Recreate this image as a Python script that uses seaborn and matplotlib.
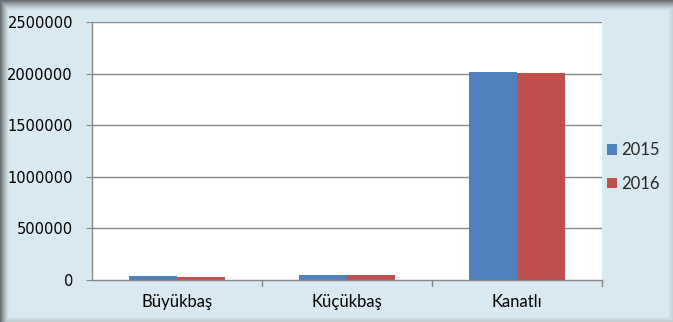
import numpy as np
import pandas as pd
import matplotlib
matplotlib.use("Agg")
import matplotlib.pyplot as plt
import seaborn as sns

categories = ["Büyükbaş", "Küçükbaş", "Kanatlı"]
years = ["2015", "2016"]
values_2015 = [36000, 50000, 2020000]
values_2016 = [27000, 51000, 2005000]
y_ticks = [0, 500000, 1000000, 1500000, 2000000, 2500000]

df = pd.DataFrame({
    "kategori": categories * 2,
    "yil": [years[0]] * 3 + [years[1]] * 3,
    "deger": values_2015 + values_2016,
})

sns.set_style("white")
plt.rcParams["font.family"] = ["DejaVu Sans"]

W, H = 673, 322
fig = plt.figure(figsize=(W / 100, H / 100), dpi=100)

# background panel with a soft shadow along the top and left edges
bg = np.array([218, 234, 242], dtype=float) / 255.0
shade = np.array([105, 110, 112], dtype=float) / 255.0
img = np.tile(bg, (H, W, 1))
yy = np.arange(H)[:, None]
xx = np.arange(W)[None, :]
t_top = np.clip(1 - yy / 11.0, 0, 1) ** 1.4
t_left = np.clip(1 - xx / 9.0, 0, 1) ** 1.4
t_bot = np.clip(1 - (H - 1 - yy) / 5.0, 0, 1) * 0.25
t_right = np.clip(1 - (W - 1 - xx) / 4.0, 0, 1) * 0.2
t = np.maximum.reduce([np.broadcast_to(t_top, (H, W)), np.broadcast_to(t_left, (H, W)),
                       np.broadcast_to(t_bot, (H, W)), np.broadcast_to(t_right, (H, W))])
img = img * (1 - t[..., None]) + shade * t[..., None]
bg_ax = fig.add_axes([0, 0, 1, 1], zorder=-10)
bg_ax.imshow(img, aspect="auto", extent=[0, 1, 0, 1])
bg_ax.axis("off")

x0, x1, y_top, y_bot = 92, 602, 22, 280
ax = fig.add_axes([x0 / W, (H - y_bot) / H, (x1 - x0) / W, (y_bot - y_top) / H])
ax.set_facecolor("white")

palette = {"2015": "#4F81BD", "2016": "#C0504D"}
sns.barplot(data=df, x="kategori", y="deger", hue="yil", order=categories,
            hue_order=years, palette=palette, width=0.57, gap=0,
            saturation=1, edgecolor="none", linewidth=0, ax=ax, zorder=3,
            legend=True)

ax.set_ylim(0, 2500000)
ax.set_xlim(-0.5, 2.5)
ax.set_yticks(y_ticks)
ax.set_yticklabels([str(v) for v in y_ticks], fontsize=10.5, color="black")
ax.set_xlabel("")
ax.set_ylabel("")

grid_c = "#888888"
for v in y_ticks[1:]:
    ax.axhline(v, color=grid_c, lw=1.0, zorder=1)

for side in ["top", "right"]:
    ax.spines[side].set_visible(False)
for side in ["left", "bottom"]:
    ax.spines[side].set_color(grid_c)
    ax.spines[side].set_linewidth(1.0)
    ax.spines[side].set_zorder(4)

ax.tick_params(axis="y", direction="out", length=4.3, width=0.75, color=grid_c, pad=9.4, left=True)
ax.set_xticks([0, 1, 2])
ax.set_xticklabels(categories, fontsize=12, family="Lato", color="black")
ax.tick_params(axis="x", length=0, pad=10)
# category separators on the horizontal axis
for b in [0.5, 1.5, 2.5]:
    ax.plot([b, b], [0, -0.022], transform=ax.get_xaxis_transform(), color=grid_c,
            lw=1, clip_on=False)

handles, labels = ax.get_legend_handles_labels()
ax.legend(handles, labels, loc="center left", bbox_to_anchor=(1.0, 0.438),
          frameon=False, handlelength=0.6, handleheight=0.6, handletextpad=0.25,
          labelspacing=1.05, borderaxespad=0.0, borderpad=0.3,
          prop={"family": "Lato", "size": 12})

fig.savefig("out.png", dpi=100)
